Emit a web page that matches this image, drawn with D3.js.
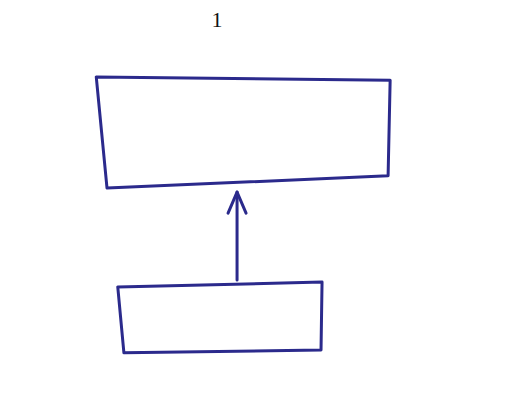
<!DOCTYPE html>
<html>
<head>
<meta charset="utf-8">
<script src="https://cdn.jsdelivr.net/npm/d3@7"></script>
<style>
  body { margin: 0; background: #fff; }
  svg { display: block; }
</style>
</head>
<body>
<div id="chart"></div>
<script>
// sketch content: page number, two boxes, an arrow between them
var pageLabel = ['1'];
var boxNames = ['upper', 'lower'];
// corners of each box, clockwise from top-left, in sketch units (0-100)
var boxCorners = [
  [[18.8, 18.9], [76.2, 19.7], [75.8, 43.2], [20.9, 46.2]],
  [[23.0, 70.5], [62.9, 69.3], [62.7, 86.0], [24.2, 86.7]]
];
var arrowFrom = [46.3, 68.8];
var arrowTo = [46.3, 47.2];

var width = 512, height = 407;
var svg = d3.select('#chart').append('svg')
  .attr('width', width).attr('height', height);

var x = d3.scaleLinear().domain([0, 100]).range([0, width]);
var y = d3.scaleLinear().domain([0, 100]).range([0, height]);

var ink = '#2b2a8c';

svg.selectAll('.page').data(pageLabel).enter().append('text')
  .attr('x', x(42.4)).attr('y', y(6.6))
  .attr('font-family', 'Liberation Serif, serif')
  .attr('font-size', 22).attr('fill', '#111')
  .attr('text-anchor', 'middle')
  .text(function(d){ return d; });

var line = d3.line().x(function(d){ return x(d[0]); }).y(function(d){ return y(d[1]); })
  .curve(d3.curveLinearClosed);

svg.selectAll('.box').data(boxCorners).enter().append('path')
  .attr('class', function(d, i){ return 'box ' + boxNames[i]; })
  .attr('d', line)
  .attr('fill', 'none').attr('stroke', ink)
  .attr('stroke-width', 3).attr('stroke-linejoin', 'round');

svg.append('line')
  .attr('x1', x(arrowFrom[0])).attr('y1', y(arrowFrom[1]))
  .attr('x2', x(arrowTo[0])).attr('y2', y(arrowTo[1]))
  .attr('stroke', ink).attr('stroke-width', 3).attr('stroke-linecap', 'round');

var tip = [x(arrowTo[0]), y(arrowTo[1])];
svg.append('path')
  .attr('d', d3.line()([[tip[0] - 9, tip[1] + 21], tip, [tip[0] + 9, tip[1] + 21]]))
  .attr('fill', 'none').attr('stroke', ink).attr('stroke-width', 3)
  .attr('stroke-linecap', 'round').attr('stroke-linejoin', 'round');
</script>
</body>
</html>
